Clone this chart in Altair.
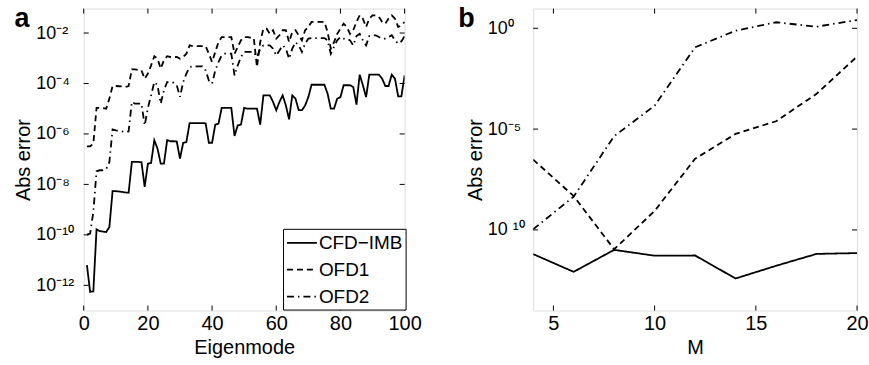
import altair as alt
import pandas as pd

# ---------------- data (panel a) ----------------
modes = list(range(1, 101))
# log10 of absolute error
cfd_imb_log10 = [
    -11.2, -12.26, -12.24, -9.78, -9.85, -9.87, -9.89, -9.69, -8.26, -8.27,
    -8.28, -8.30, -8.32, -8.33, -7.11, -7.11, -7.11, -7.12, -8.10, -7.18,
    -7.15, -6.25, -6.58, -7.18, -7.18, -6.25, -6.29, -6.29, -6.30, -6.98,
    -6.35, -6.32, -5.57, -5.57, -5.57, -5.57, -5.57, -5.58, -6.35, -6.35,
    -5.63, -5.59, -4.97, -4.97, -4.97, -4.97, -6.08, -5.66, -5.63, -4.97,
    -5.00, -5.00, -5.00, -5.00, -5.63, -4.47, -4.47, -4.47, -4.73, -5.06,
    -4.73, -4.47, -4.87, -5.42, -4.47, -4.60, -5.06, -5.06, -4.87, -4.54,
    -4.05, -4.05, -4.05, -4.05, -4.05, -4.40, -5.00, -5.00, -4.60, -4.54,
    -4.07, -4.07, -4.07, -4.14, -4.84, -3.65, -4.07, -4.54, -3.65, -3.65,
    -3.65, -3.65, -3.81, -4.10, -4.10, -3.65, -3.81, -4.51, -4.51, -3.68]
ofd1_log10 = [
    -6.49, -6.49, -6.39, -4.97, -4.97, -4.98, -5.00, -4.60, -4.10, -4.10,
    -4.11, -4.12, -4.14, -4.10, -3.44, -3.44, -3.46, -3.48, -3.81, -3.61,
    -3.28, -2.92, -3.02, -3.41, -3.08, -2.92, -2.95, -2.95, -2.95, -3.02,
    -2.95, -2.82, -2.49, -2.52, -2.52, -2.52, -2.52, -2.52, -2.82, -3.15,
    -2.75, -2.36, -2.16, -2.16, -2.16, -2.16, -2.82, -2.55, -2.29, -2.16,
    -2.16, -2.18, -2.20, -3.35, -2.36, -1.83, -1.83, -2.03, -1.89, -2.22,
    -2.09, -1.89, -1.89, -2.36, -1.96, -1.89, -2.09, -2.29, -1.89, -1.76,
    -1.56, -1.56, -1.56, -1.56, -1.56, -1.96, -2.62, -2.36, -2.03, -1.83,
    -1.63, -1.76, -2.03, -1.89, -1.56, -1.30, -1.43, -1.76, -1.43, -1.30,
    -1.30, -1.36, -1.56, -1.63, -1.43, -1.30, -1.43, -1.76, -1.70, -1.56]
ofd2_log10 = [
    -9.99, -9.95, -9.09, -7.48, -7.44, -7.44, -7.40, -7.11, -5.82, -5.86,
    -5.88, -5.90, -5.92, -5.90, -4.73, -4.80, -4.80, -4.80, -5.66, -4.97,
    -4.47, -3.94, -4.07, -4.80, -4.27, -3.94, -3.97, -3.97, -4.07, -4.53,
    -3.94, -3.61, -3.35, -3.32, -3.32, -3.32, -3.32, -3.48, -3.88, -4.01,
    -3.48, -3.15, -2.89, -2.82, -2.82, -2.82, -3.68, -3.28, -2.95, -2.75,
    -2.75, -2.75, -2.75, -2.95, -2.62, -2.49, -2.49, -2.49, -2.62, -2.89,
    -2.69, -2.49, -2.62, -3.02, -2.62, -2.36, -2.49, -2.75, -2.42, -2.22,
    -2.20, -2.20, -2.20, -2.20, -2.20, -2.29, -2.82, -2.55, -2.29, -2.16,
    -2.22, -2.22, -2.29, -2.49, -2.12, -2.03, -2.29, -2.49, -2.12, -2.09,
    -2.09, -2.16, -2.22, -2.22, -2.16, -2.09, -2.29, -2.42, -2.33, -2.12]

# ---------------- data (panel b) ----------------
m_values = [4, 6, 8, 10, 12, 14, 16, 18, 20]
cfd_imb_b_log10 = [-11.20, -12.08, -10.99, -11.28, -11.27, -12.41, -11.78, -11.19, -11.15]
ofd1_b_log10 = [-6.51, -8.32, -10.96, -9.06, -6.47, -5.24, -4.61, -3.25, -1.40]
ofd2_b_log10 = [-9.97, -8.35, -5.35, -3.84, -0.94, -0.12, 0.30, 0.08, 0.41]

series_names = ["CFD\u2212IMB", "OFD1", "OFD2"]

a_xticks = [0, 20, 40, 60, 80, 100]
a_yticks = [1e-12, 1e-10, 1e-8, 1e-6, 1e-4, 1e-2]
a_ylabels = ["10\u207b\u00b9\u00b2", "10\u207b\u00b9\u2070", "10\u207b\u2078",
             "10\u207b\u2076", "10\u207b\u2074", "10\u207b\u00b2"]
b_xticks = [5, 10, 15, 20]
b_yticks = [1e-10, 1e-5, 1.0]
b_ylabels = ["10 \u00b9\u2070", "10\u207b\u2075", "10\u2070"]

FONT = "Liberation Sans"
DASHES = [[1, 0], [6, 4], [7, 4, 1.5, 4]]


def long_df(xs, series, xname):
    rows = []
    for name, vals in zip(series_names, series):
        for x, e in zip(xs, vals):
            rows.append({xname: x, "err": 10 ** e, "series": name})
    return pd.DataFrame(rows)


def label_expr(ticks, labels):
    expr = "''"
    for t, lab in reversed(list(zip(ticks, labels))):
        expr = f"datum.value < {t * 1.5!r} ? '{lab}' : ({expr})"
    return expr


def panel(df, xname, xdomain, xticks, xtitle, ydomain, yticks, ylabels,
          width, height, lx, ly, letter, letter_x, ylabpad):
    xscale = alt.Scale(domain=xdomain, nice=False, zero=False)
    yscale = alt.Scale(type="log", domain=ydomain, nice=False)
    xaxis = alt.Axis(values=xticks, title=xtitle, ticks=False, domain=False,
                     grid=False, labelFontSize=20, titleFontSize=20,
                     labelPadding=3, titlePadding=4, labelFlush=False,
                     labelColor="black", titleColor="black",
                     labelFont=FONT, titleFont=FONT, titleFontWeight="normal")
    yaxis = alt.Axis(values=yticks, labelExpr=label_expr(yticks, ylabels),
                     title="Abs error", ticks=False, domain=False, grid=False,
                     labelAlign="left", labelPadding=ylabpad, labelFontSize=18,
                     titleFontSize=20, titlePadding=2, labelColor="black",
                     titleColor="black", labelFont=FONT, titleFont=FONT,
                     titleFontWeight="normal")
    lines = alt.Chart(df).mark_line(color="black", strokeWidth=1.8, clip=True).encode(
        x=alt.X(f"{xname}:Q", scale=xscale, axis=xaxis),
        y=alt.Y("err:Q", scale=yscale, axis=yaxis),
        strokeDash=alt.StrokeDash(
            "series:N",
            scale=alt.Scale(domain=series_names, range=DASHES),
            legend=alt.Legend(orient="none", legendX=lx, legendY=ly, title=None,
                              symbolType="M-1,0H2", symbolSize=400,
                              symbolStrokeWidth=1.8, symbolFillColor="transparent",
                              symbolStrokeColor="black", labelFontSize=19, labelFont=FONT,
                              labelColor="black", labelOffset=11, padding=3, rowPadding=6,
                              strokeColor="black", fillColor="white")),
    )
    xt = pd.DataFrame({"v": xticks})
    yt = pd.DataFrame({"v": yticks})
    tick_x_bottom = alt.Chart(xt).mark_rule(color="black", strokeWidth=1).encode(
        x=alt.X("v:Q", scale=xscale, axis=xaxis), y=alt.value(height), y2=alt.value(height - 5))
    tick_x_top = alt.Chart(xt).mark_rule(color="black", strokeWidth=1).encode(
        x=alt.X("v:Q", scale=xscale, axis=xaxis), y=alt.value(0), y2=alt.value(5))
    tick_y_left = alt.Chart(yt).mark_rule(color="black", strokeWidth=1).encode(
        y=alt.Y("v:Q", scale=yscale, axis=yaxis), x=alt.value(0), x2=alt.value(5))
    tick_y_right = alt.Chart(yt).mark_rule(color="black", strokeWidth=1).encode(
        y=alt.Y("v:Q", scale=yscale, axis=yaxis), x=alt.value(width - 5), x2=alt.value(width))
    let = alt.Chart(pd.DataFrame({"t": [letter]})).mark_text(
        font=FONT, fontSize=27, fontWeight="bold", align="center", baseline="alphabetic",
        color="black").encode(text="t:N", x=alt.value(letter_x), y=alt.value(18))
    return alt.layer(lines, tick_x_bottom, tick_x_top, tick_y_left, tick_y_right, let).properties(
        width=width, height=height)


df_a = long_df(modes, [cfd_imb_log10, ofd1_log10, ofd2_log10], "mode")
df_b = long_df(m_values, [cfd_imb_b_log10, ofd1_b_log10, ofd2_b_log10], "M")

pa = panel(df_a, "mode", [0, 100], a_xticks, "Eigenmode", [1e-13, 0.093], a_yticks, a_ylabels,
           322, 303, 200, 221, "a", -62, 48)
pb = panel(df_b, "M", [4, 20], b_xticks, "M", [1e-14, 9.5], b_yticks, b_ylabels,
           325, 303, 4, 5, "b", -67, 46)

chart = alt.hconcat(pa, pb, spacing=35).properties(
    padding={"left": 13, "top": 3, "right": 0, "bottom": 0}
).configure_view(stroke="black", strokeWidth=1.2).configure(font=FONT, background="white")

chart.save("out.html", embed_options={"renderer": "svg", "actions": False})
